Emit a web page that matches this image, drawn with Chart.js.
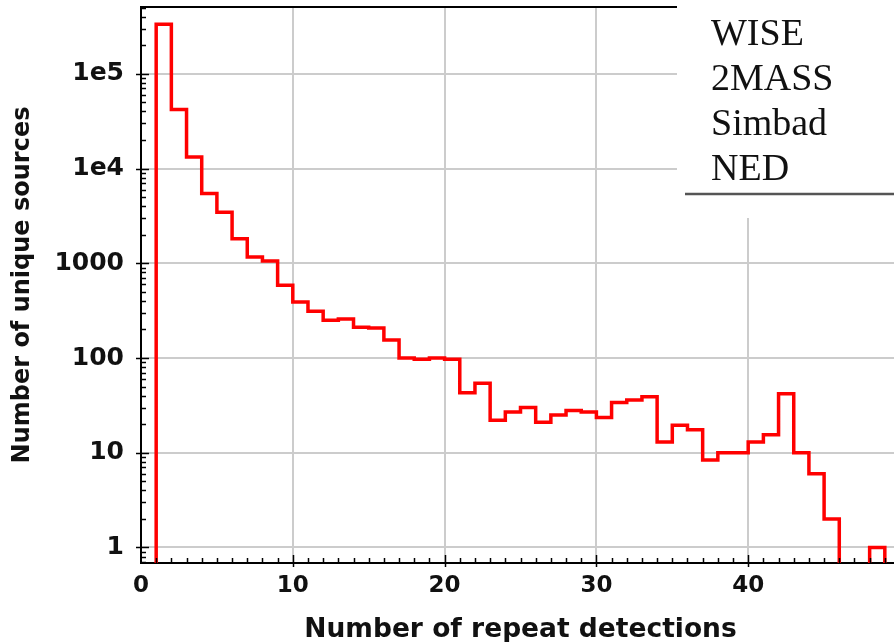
<!DOCTYPE html>
<html>
<head>
<meta charset="utf-8">
<script src="https://cdn.jsdelivr.net/npm/chart.js@4.4.1/dist/chart.umd.min.js"></script>
<style>
  html, body { margin: 0; padding: 0; background: #fff; overflow: hidden; }
  .chart-box { width: 902px; height: 642px; }
</style>
</head>
<body>
<div class="chart-box"><canvas id="histChart"></canvas></div>
<script>
// histogram bins (left edge of each bin, width 1)
const binStarts = [0, 1, 2, 3, 4, 5, 6, 7, 8, 9,
                   10, 11, 12, 13, 14, 15, 16, 17, 18, 19,
                   20, 21, 22, 23, 24, 25, 26, 27, 28, 29,
                   30, 31, 32, 33, 34, 35, 36, 37, 38, 39,
                   40, 41, 42, 43, 44, 45, 46, 47, 48, 49];
const sourceCounts = [0, 333000, 41900, 13200, 5450, 3460, 1820, 1165, 1060, 587,
                      391, 312, 251, 258, 211, 208, 155, 100, 97, 100,
                      97, 43, 54, 22, 27, 30, 21, 25, 28, 27,
                      23.5, 34, 36, 39, 13, 19.5, 17.5, 8.4, 10, 10,
                      13, 15.5, 42, 10, 6, 2, 0, 0, 1, 0];
const xTickValues = [0, 10, 20, 30, 40];
const yTickValues = [1, 10, 100, 1000, 10000, 100000];
const yTickLabels = ["1", "10", "100", "1000", "1e4", "1e5"];
const legendLabels = ["WISE", "2MASS", "Simbad", "NED"];

const binWidth = 1;
const belowAxis = 0.3; // empty bins drop below the bottom of the log axis

const points = binStarts.map((x, i) => ({ x: x, y: sourceCounts[i] > 0 ? sourceCounts[i] : belowAxis }));
points.push({ x: binStarts[binStarts.length - 1] + binWidth, y: belowAxis });

const axisDecor = {
    id: "axisDecor",
    afterDraw(chart) {
        const ctx = chart.ctx;
        const area = chart.chartArea;
        const xs = chart.scales.x;
        const ys = chart.scales.y;

        ctx.save();
        ctx.strokeStyle = "#000";
        ctx.lineWidth = 2;

        // top frame line
        ctx.beginPath();
        ctx.moveTo(area.left - 1, area.top);
        ctx.lineTo(area.right, area.top);
        ctx.stroke();

        // log minor / major ticks on the y axis
        ctx.lineWidth = 1.5;
        for (let d = -1; d <= 5; d++) {
            for (let m = 1; m <= 9; m++) {
                const v = m * Math.pow(10, d);
                if (v < ys.min || v > ys.max) continue;
                const y = Math.round(ys.getPixelForValue(v)) + 0.5;
                ctx.beginPath();
                if (m === 1) {
                    ctx.moveTo(area.left - 5, y);
                    ctx.lineTo(area.left + 8, y);
                } else {
                    ctx.moveTo(area.left, y);
                    ctx.lineTo(area.left + 5, y);
                }
                ctx.stroke();
            }
        }

        // ticks on the x axis, one per bin
        for (let v = 1; v < xs.max; v++) {
            const x = Math.round(xs.getPixelForValue(v)) + 0.5;
            ctx.beginPath();
            if (v % 10 === 0) {
                ctx.moveTo(x, area.bottom + 4);
                ctx.lineTo(x, area.bottom - 8);
            } else {
                ctx.moveTo(x, area.bottom);
                ctx.lineTo(x, area.bottom - 5);
            }
            ctx.stroke();
        }

        // legend box in the top right corner
        ctx.fillStyle = "#fff";
        ctx.fillRect(677, 0, chart.width - 677, 218);
        ctx.strokeStyle = "#555";
        ctx.lineWidth = 2.5;
        ctx.beginPath();
        ctx.moveTo(685, 194);
        ctx.lineTo(chart.width, 194);
        ctx.stroke();

        ctx.fillStyle = "#111";
        ctx.font = '38px "Liberation Serif"';
        ctx.textBaseline = "alphabetic";
        legendLabels.forEach((label, i) => {
            ctx.fillText(label, 711, 45 + i * 45);
        });
        ctx.restore();
    }
};

const ctx = document.getElementById("histChart").getContext("2d");

new Chart(ctx, {
    type: "line",
    data: {
        datasets: [{
            data: points,
            borderColor: "#ff0000",
            borderWidth: 3.5,
            stepped: true,
            pointRadius: 0,
            fill: false,
            clip: { left: 2, top: 2, right: 2, bottom: 0 }
        }]
    },
    options: {
        responsive: true,
        maintainAspectRatio: false,
        animation: false,
        layout: { padding: { top: 7, right: 2, left: 0, bottom: 0 } },
        plugins: {
            legend: { display: false },
            tooltip: { enabled: false }
        },
        scales: {
            x: {
                type: "linear",
                min: 0,
                max: 50,
                afterBuildTicks: (scale) => { scale.ticks = xTickValues.map(v => ({ value: v })); },
                afterFit: (scale) => {
                    scale.height = 79;
                    scale.paddingLeft = 0;
                    scale.paddingRight = 0;
                },
                grid: { color: "#cccccc", lineWidth: 2, drawTicks: false },
                border: { color: "#000", width: 2 },
                ticks: {
                    padding: 9,
                    color: "#111",
                    font: { family: "DejaVu Sans", size: 23, weight: "bold" },
                    maxRotation: 0,
                    callback: (v) => String(v)
                },
                title: {
                    display: true,
                    text: "Number of repeat detections",
                    color: "#111",
                    font: { family: "DejaVu Sans", size: 26.5, weight: "bold" },
                    padding: { top: 0, bottom: -4 }
                }
            },
            y: {
                type: "logarithmic",
                min: 0.686,
                max: 507000,
                afterBuildTicks: (scale) => { scale.ticks = yTickValues.map(v => ({ value: v })); },
                afterFit: (scale) => {
                    scale.width = 141;
                    scale.paddingTop = 0;
                    scale.paddingBottom = 0;
                },
                grid: { color: "#cccccc", lineWidth: 2, drawTicks: false },
                border: { color: "#000", width: 2 },
                ticks: {
                    padding: 17,
                    color: "#111",
                    font: { family: "DejaVu Sans", size: 25, weight: "bold" },
                    callback: (v) => yTickLabels[yTickValues.indexOf(v)]
                },
                title: {
                    display: true,
                    text: "Number of unique sources",
                    color: "#111",
                    font: { family: "DejaVu Sans", size: 24, weight: "bold" },
                    padding: { top: 8, bottom: 0 }
                }
            }
        }
    },
    plugins: [axisDecor]
});
</script>
</body>
</html>
